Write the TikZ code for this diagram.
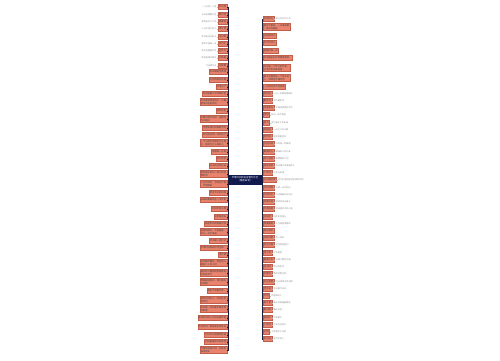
\documentclass[tikz,border=0pt]{standalone}
\usepackage{fontspec}
\newfontfamily\cjk{Noto Sans CJK SC}
\definecolor{boxfill}{HTML}{E9836D}
\definecolor{boxline}{HTML}{C25F4A}
\definecolor{rootfill}{HTML}{111A4E}
\definecolor{trunk}{HTML}{1C1C3C}
\definecolor{leafgray}{HTML}{8E8E8E}
\tikzset{
	topic/.style={draw=boxline, fill=boxfill, line width=0.3pt, inner xsep=0.8pt, inner ysep=0.9pt, minimum height=5pt, align=left, text=black!75, font=\cjk\fontsize{2.3}{2.8}\selectfont},
	root/.style={draw=rootfill, fill=rootfill, text=white, minimum width=32pt, minimum height=9pt, inner sep=0.6pt, align=center, font=\cjk\fontsize{2.4}{2.9}\selectfont},
	leaf/.style={inner sep=0.4pt, text=leafgray, font=\cjk\fontsize{2.1}{2.5}\selectfont},
	branch/.style={draw=trunk, line width=0.6pt},
	twig/.style={draw=leafgray!60, line width=0.25pt}
}
\begin{document}
\begin{tikzpicture}[x=1pt,y=-1pt]
	\useasboundingbox (0,0) rectangle (500,360);

	\node[root] (root) at (245,179.5) {珍惜时间的名言警句大全\\（精选88句）};
	\coordinate (lt) at (228,179.5);
	\coordinate (rt) at (262,179.5);

	% left side
	\foreach \i/\y/\t in {1/7/{时光短}, 2/15/{勤为径}, 3/22/{莫等闲}, 4/29/{惜寸阴}, 5/37/{日日新}, 6/44/{岁月忙}, 7/51/{趁年华}, 8/58/{向前看}, 9/66/{今朝事},
		10/72/{时间就是生命线}, 11/80/{光阴似箭日月梭}, 12/87/{珍惜当下}, 13/94/{时间是最公平的裁判者},
		14/102/{时间像海绵里的水，只要\\愿挤总还是有的}, 15/111/{惜时如金}, 16/119/{不要为明天忧虑，把握住\\今天就好},
		17/128/{合理安排时间就是节约}, 18/135/{时间会证明一切的努力}, 19/143/{一个人的时间用在什么地\\方，就成为什么样的人},
		20/152/{把握每一分钟}, 21/159/{争分夺秒}, 22/166/{过去的已经过去}, 23/174/{你热爱生命吗？那么别浪\\费时间},
		24/184/{人生天地间，忽如远行客\\，珍惜眼前}, 25/193/{抓住今天的机会}, 26/200/{未来的路靠现在一步步走},
		27/209/{时间不等人啊}, 28/217/{光阴易逝去}, 29/224/{最宝贵的财富是时间}, 30/232/{逝者如斯夫，不舍昼夜，\\时光一去不复返},
		31/241/{时间是一把尺子}, 32/248/{珍惜时间就是珍惜生命。}, 33/255/{惜今朝}, 34/263/{时间最不偏私，给任何人\\都是二十四小时},
		35/273/{成功的人懂得利用零碎的\\时间去学习}, 36/282/{青春是短暂的，我们要好\\好把握}, 37/291/{黑发不知勤学早，},
		38/300/{放弃时间的人，时间也会\\放弃他}, 39/309/{时间是一切财富中最宝贵\\的财富}, 40/318/{抛弃时间的人时间也抛弃他},
		41/327/{节约时间，就是使生命延长}, 42/335/{勿以时光短暂而轻视}, 43/342/{时间是最伟大的导师}, 44/350/{合理地利用时间，你就会\\收获更多}}{
		\node[topic,anchor=east] (l\i) at (227,\y) {\t};
		\draw[branch] (root.west) -- (lt) |- (l\i.east);
	}
	\foreach \i/\t in {1/{一寸光阴一寸金}, 2/{书山有路勤为径}, 3/{莫等闲白了少年}, 4/{少壮不努力老大}, 5/{苟日新日日新又}, 6/{盛年不重来一日}, 7/{及时当勉励岁月}, 8/{明日复明日明日}, 9/{今日事今毕}}{
		\node[leaf,anchor=east] (ll\i) at ([xshift=-1.2pt]l\i.west) {\t};
		\draw[twig] (l\i.west) -- (ll\i.east);
	}

	% right side
	\foreach \i/\y/\t in {1/19/{珍惜时光}, 2/27/{盛年不重来，一日难再晨\\，及时当勉励}, 3/36/{光阴如流水}, 4/43/{岁月不待人}, 5/51/{把握好每一天},
		6/58/{时间是由分秒积累而成的。}, 7/68/{时间是一个伟大的作者，\\它会写出完美结局}, 8/78/{敢于浪费哪怕一个钟头的\\人，说明他不懂珍惜},
		9/87/{一天的时间不会再来}, 10/94/{惜时间}, 11/101/{勤学习}, 12/108/{勿虚度光}, 13/115/{惜时}, 14/123/{努力}, 15/130/{早起床},
		16/137/{趁年轻}, 17/144/{守住时间}, 18/152/{勤奋的人}, 19/159/{有计划的}, 20/166/{抓住机会}, 21/173/{少年时},
		22/180/{时间最宝贵}, 23/188/{惜光阴啊}, 24/195/{珍惜今天}, 25/202/{抓紧时间}, 26/209/{不再拖延}, 27/217/{向前走},
		28/224/{莫要蹉跎}, 29/231/{每分每秒}, 30/238/{日积月累}, 31/245/{持之以恒}, 32/253/{惜寸阴}, 33/260/{勤奋为本},
		34/267/{读书时}, 35/274/{勿等待}, 36/282/{时光荏苒}, 37/289/{惜今日}, 38/296/{珍惜}, 39/303/{奋斗者},
		40/310/{勤与惰}, 41/318/{争朝夕}, 42/325/{少年志}, 43/332/{光阴}, 44/339/{岁月长}}{
		\node[topic,anchor=west] (r\i) at (263,\y) {\t};
		\draw[branch] (root.east) -- (rt) |- (r\i.west);
	}
	\foreach \i/\t in {1/{莫让年华付水流}, 10/{一分一秒都很重要的}, 11/{学习要趁早}, 12/{不要虚度美好年华}, 13/{时间一去不复返},
		14/{努力奋斗才有未来}, 15/{一日之计在于晨}, 16/{年轻就是资本}, 17/{守时是一种美德}, 18/{勤奋的人时间多},
		19/{做事要有计划}, 20/{机会属于有准备的人}, 21/{少年当自强}, 22/{时间比金钱更加宝贵的东西}, 23/{光阴一去不回头},
		24/{今天是最好的日子}, 25/{抓紧时间去奋斗}, 26/{拖延是时间的小偷}, 27/{向前走别回头}, 28/{人生短暂莫蹉跎},
		30/{积少成多}, 31/{坚持就是胜利}, 32/{寸阴是竞}, 33/{业精于勤荒于嬉}, 34/{读书须趁早}, 35/{等待浪费生命},
		36/{时光荏苒岁月如歌}, 37/{今日事今日毕}, 38/{珍惜眼前人}, 39/{奋斗的青春最美丽}, 40/{勤能补拙},
		41/{只争朝夕}, 42/{少年志在四方}, 43/{寸金难买寸光阴}, 44/{岁月不饶人}}{
		\node[leaf,anchor=west] (rl\i) at ([xshift=1.2pt]r\i.east) {\t};
		\draw[twig] (r\i.east) -- (rl\i.west);
	}
\end{tikzpicture}
\end{document}
